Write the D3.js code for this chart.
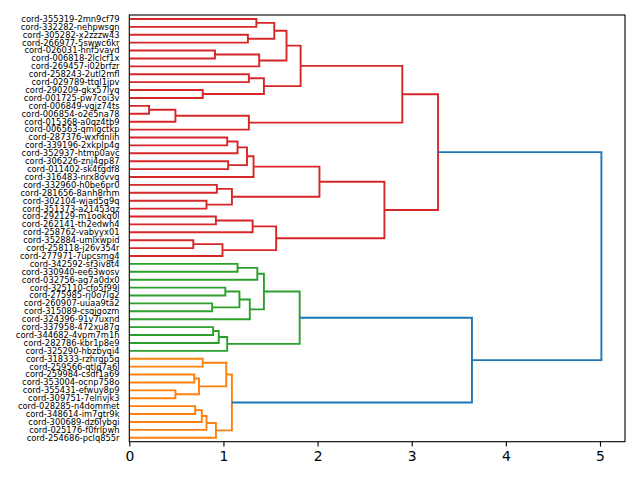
<!DOCTYPE html>
<html>
<head>
<meta charset="utf-8">
<script src="https://cdn.jsdelivr.net/npm/d3@7"></script>
<style>
  body { margin: 0; background: white; }
  text { font-family: "DejaVu Sans", sans-serif; }
</style>
</head>
<body>
<div id="chart"></div>
<script>
// leaf labels, top to bottom
const leaves = [
    "cord-355319-2mn9cf79", "cord-332282-nehpwsgn", "cord-305282-x2zzzw43", "cord-266977-5swwc6kr",
    "cord-026031-hnf5vayd", "cord-006818-2lclcf1x", "cord-269457-i02brfzr", "cord-258243-2utl2mfl",
    "cord-029789-ttql1jpv", "cord-290209-gkx57lyq", "cord-001725-pw7coi3v", "cord-006849-vgjz74ts",
    "cord-006854-o2e5na78", "cord-015368-a0qz4tb9", "cord-006563-qmigctkp", "cord-287376-wxfdnlih",
    "cord-339196-2xkplp4g", "cord-352937-htmp0avc", "cord-306226-znj4gp87", "cord-011402-sk4tgdf8",
    "cord-316483-nrx8ovvq", "cord-332960-h0be6pr0", "cord-281656-8anh8rhm", "cord-302104-wjad5g9q",
    "cord-351373-a21453qz", "cord-292129-m1ookq0l", "cord-262141-th2edwh4", "cord-258762-vabyyx01",
    "cord-352884-umlxwpid", "cord-258118-j26v354r", "cord-277971-7upcsmg4", "cord-342592-sf3iv8t4",
    "cord-330940-ee63wosv", "cord-032756-ag7a0dx0", "cord-325110-cfo5f99l", "cord-275985-rj0o7lg2",
    "cord-260907-uuaa9ta2", "cord-315089-csqjgozm", "cord-324396-91v7uxnd", "cord-337958-472xu87g",
    "cord-344682-4vpm7m1h", "cord-282786-kbr1p8e9", "cord-325290-hbzbyqi4", "cord-318333-rzhrgp5q",
    "cord-259566-qtlq7a6l", "cord-259984-csdf1a69", "cord-353004-ocnp758o", "cord-355431-efwuy8p9",
    "cord-309751-7elnvjk3", "cord-028285-n4dommet", "cord-348614-im7gtr9k", "cord-300689-dz6lybgi",
    "cord-025176-f0frlpwh", "cord-254686-pclq855r"
];

// merges: [child a, child b, distance]; ids 0..53 are leaves, merge k gets id 54 + k
const merges = [
    [0, 1, 1.35], [2, 3, 1.26], [54, 55, 1.54], [4, 5, 0.91], [57, 6, 1.38],
    [56, 58, 1.67], [7, 8, 1.27], [9, 10, 0.78], [60, 61, 1.43], [59, 62, 1.82],
    [11, 12, 0.21], [64, 13, 0.49], [65, 14, 1.27], [63, 66, 2.90],
    [15, 16, 1.04], [68, 17, 1.15], [18, 19, 1.05], [69, 70, 1.25], [71, 20, 1.32],
    [21, 22, 0.93], [23, 24, 0.82], [73, 74, 1.09], [72, 75, 2.02],
    [25, 26, 0.92], [77, 27, 1.31], [28, 29, 0.68], [79, 30, 0.99], [78, 80, 1.56],
    [76, 81, 2.71], [67, 82, 3.28],
    [31, 32, 1.15], [84, 33, 1.36], [34, 35, 1.02], [36, 37, 0.88], [86, 87, 1.17],
    [88, 38, 1.28], [85, 89, 1.43], [39, 40, 0.89], [91, 41, 0.95], [92, 42, 1.04],
    [90, 93, 1.81],
    [43, 44, 0.78], [45, 46, 0.69], [47, 48, 0.49], [96, 97, 0.74], [95, 98, 1.03],
    [49, 50, 0.70], [100, 51, 0.77], [101, 52, 0.82], [102, 53, 0.92], [99, 103, 1.09],
    [94, 104, 3.64], [83, 105, 5.015]
];

const xTicks = [0, 1, 2, 3, 4, 5];
const clusterColors = ["#ff7f0e", "#2ca02c", "#d62728"]; // bottom to top
const aboveColor = "#1f77b4";

// page setup
const width = 640;
const height = 480;
const plot = { left: 129.3, right: 625, top: 15, bottom: 441.7 };

const svg = d3.select("#chart")
    .append("svg")
    .attr("width", width)
    .attr("height", height);

const n = leaves.length;
const maxDist = d3.max(merges, d => d[2]);
const threshold = 0.7 * maxDist;

const x = d3.scaleLinear()
    .domain([0, maxDist * 1.05])
    .range([plot.left, plot.right]);

const y = d3.scaleLinear()
    .domain([0, n * 10])
    .range([plot.top, plot.bottom]);

// position and height of every node
const nodeY = leaves.map((d, i) => 5 + 10 * i);
const nodeH = leaves.map(() => 0);
merges.forEach(m => {
    nodeY.push((nodeY[m[0]] + nodeY[m[1]]) / 2);
    nodeH.push(m[2]);
});

// colour clusters below threshold, ordered from the bottom leaf upward
const nodeColor = [];
function children(id) {
    return id < n ? [] : merges[id - n].slice(0, 2);
}
const clusterRoots = [];
(function findClusters(id) {
    if (nodeH[id] < threshold) { clusterRoots.push(id); return; }
    children(id).forEach(findClusters);
})(n + merges.length - 1);
clusterRoots.sort((a, b) => nodeY[b] - nodeY[a]);
clusterRoots.forEach((root, i) => {
    const c = clusterColors[i % clusterColors.length];
    (function paint(id) {
        nodeColor[id] = c;
        children(id).forEach(paint);
    })(root);
});

// draw links
const line = d3.line().x(d => x(d[0])).y(d => y(d[1]));
merges.forEach((m, k) => {
    const id = n + k;
    const [a, b, h] = m;
    const pts = [[nodeH[a], nodeY[a]], [h, nodeY[a]], [h, nodeY[b]], [nodeH[b], nodeY[b]]];
    svg.append("path")
        .attr("d", line(pts))
        .attr("fill", "none")
        .attr("stroke", nodeColor[id] || aboveColor)
        .attr("stroke-width", 1.9);
});

// frame
svg.append("rect")
    .attr("x", plot.left)
    .attr("y", plot.top)
    .attr("width", plot.right - plot.left)
    .attr("height", plot.bottom - plot.top)
    .attr("fill", "none")
    .attr("stroke", "black")
    .attr("stroke-width", 1.1);

// x axis
const xAxis = svg.append("g")
    .attr("transform", `translate(0,${plot.bottom})`)
    .call(d3.axisBottom(x).tickValues(xTicks).tickFormat(d3.format("d")).tickSize(4.9).tickPadding(4.2));
xAxis.select(".domain").remove();
xAxis.selectAll(".tick line").attr("stroke", "black").attr("stroke-width", 1.1);
xAxis.selectAll(".tick text")
    .attr("fill", "black")
    .style("font-family", "DejaVu Sans")
    .style("font-size", "13.9px");

// leaf labels
svg.append("g")
    .selectAll("text")
    .data(leaves)
    .enter()
    .append("text")
    .attr("x", plot.left - 9.8)
    .attr("y", (d, i) => y(nodeY[i]))
    .attr("dy", "0.35em")
    .attr("text-anchor", "end")
    .attr("font-size", "8.33px")
    .attr("fill", "black")
    .text(d => d);
</script>
</body>
</html>
